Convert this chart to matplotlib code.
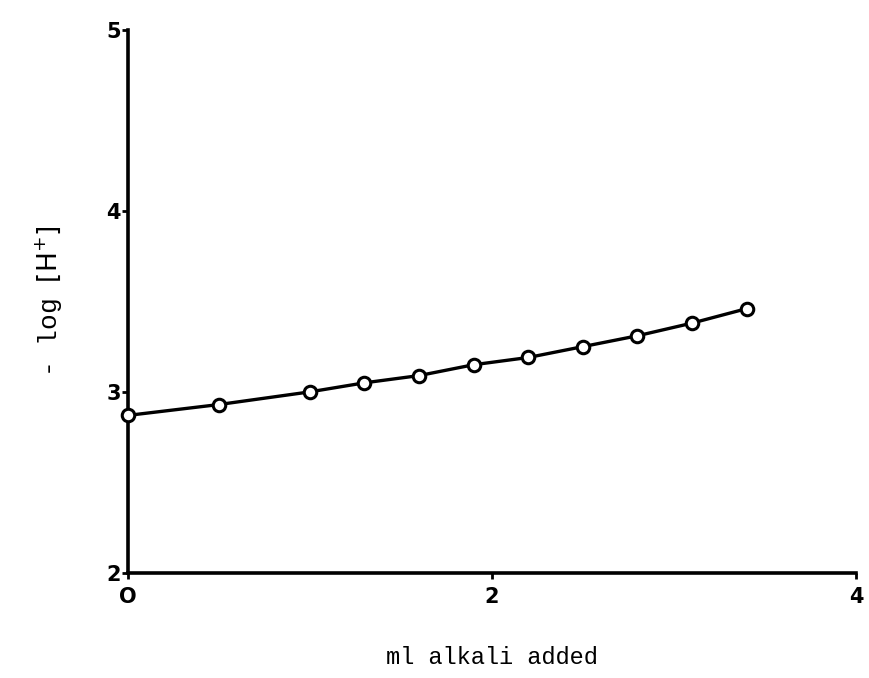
import matplotlib
matplotlib.use('Agg')
import matplotlib.pyplot as plt

# titration data
alkali_ml = [0.0, 0.5, 1.0, 1.3, 1.6, 1.9, 2.2, 2.5, 2.8, 3.1, 3.4]
neg_log_h = [2.87, 2.93, 3.00, 3.05, 3.09, 3.15, 3.19, 3.25, 3.31, 3.38, 3.46]

x_ticks = [0, 2, 4]
y_ticks = [2, 3, 4, 5]

plt.rcParams['font.family'] = 'monospace'
plt.rcParams['font.monospace'] = ['Liberation Mono', 'DejaVu Sans Mono']

fig = plt.figure(figsize=(8.69, 6.78), dpi=100)
fig.patch.set_facecolor('white')
ax = fig.add_axes([0.147, 0.155, 0.838, 0.801])

ax.plot(alkali_ml, neg_log_h, color='black', linewidth=2.4,
        marker='o', markersize=9, markerfacecolor='white',
        markeredgecolor='black', markeredgewidth=2.2, clip_on=False, zorder=3)

ax.set_xlim(0, 4)
ax.set_ylim(2, 5)
ax.set_xticks(x_ticks)
ax.set_yticks(y_ticks)
ax.set_xticklabels(['O', '2', '4'], fontsize=15, fontweight='bold',
                   family='DejaVu Sans')
ax.set_yticklabels([str(v) for v in y_ticks], fontsize=15, fontweight='bold',
                   family='DejaVu Sans')

for side in ['top', 'right']:
    ax.spines[side].set_visible(False)
for side in ['left', 'bottom']:
    ax.spines[side].set_linewidth(2.6)
    ax.spines[side].set_color('black')

ax.tick_params(axis='both', direction='out', length=4, width=2, colors='black')
ax.tick_params(axis='x', pad=6)
ax.tick_params(axis='y', pad=1)

ax.set_xlabel('ml alkali added', fontsize=17, labelpad=28)
ax.set_ylabel(r'- log $\left[\mathrm{H}^{+}\right]$', fontsize=19, labelpad=30)

plt.savefig('out.png', dpi=100, facecolor='white')
plt.close()
